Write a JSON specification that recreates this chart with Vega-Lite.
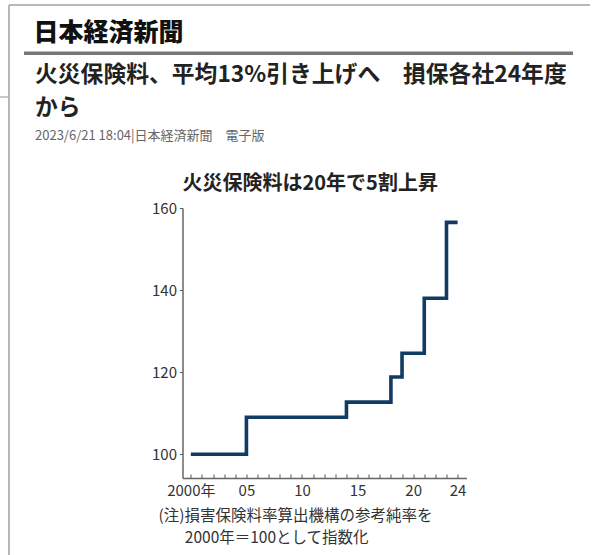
{
  "$schema": "https://vega.github.io/schema/vega-lite/v6.json",
  "width": 284,
  "height": 270,
  "autosize": {"type": "none"},
  "padding": {"left": 182.5, "top": 208, "right": 125.5, "bottom": 77},
  "background": "white",
  "config": {"view": {"stroke": null}, "font": "Noto Sans CJK JP"},
  "title": {
    "text": ["火災保険料、平均13%引き上げへ　損保各社24年度", "から"],
    "subtitle": "2023/6/21 18:04|日本経済新聞　電子版",
    "anchor": "start",
    "frame": "group",
    "dx": -147.5,
    "offset": -139.5,
    "fontSize": 22.8,
    "fontWeight": "bold",
    "color": "#222222",
    "font": "Noto Sans CJK JP",
    "lineHeight": 33,
    "subtitleFontSize": 13,
    "subtitleColor": "#666666",
    "subtitleFont": "Noto Sans CJK JP",
    "subtitlePadding": 11
  },
  "data": {
    "values": [
      {"year": 2000, "index": 100},
      {"year": 2005, "index": 109},
      {"year": 2014, "index": 112.7},
      {"year": 2018, "index": 118.8},
      {"year": 2019, "index": 124.6},
      {"year": 2021, "index": 138},
      {"year": 2023, "index": 156.5},
      {"year": 2024, "index": 156.5}
    ]
  },
  "resolve": {"axis": {"x": "independent"}},
  "layer": [
    {
      "mark": {"type": "line", "interpolate": "step-after", "color": "#123b63", "strokeWidth": 3.6, "strokeJoin": "miter", "strokeCap": "butt"},
      "encoding": {
        "x": {
          "field": "year", "type": "quantitative",
          "scale": {"domain": [1999.25, 2024.8], "nice": false, "zero": false},
          "axis": {
            "orient": "bottom",
            "values": [2000,2001,2002,2003,2004,2005,2006,2007,2008,2009,2010,2011,2012,2013,2014,2015,2016,2017,2018,2019,2020,2021,2022,2023,2024],
            "labelExpr": "datum.value == 2000 ? '2000年' : ((datum.value % 5 == 0 || datum.value == 2024) ? substring(toString(datum.value), 2, 4) : '')",
            "labelOverlap": false,
            "labelFlush": false,
            "labelFont": "Liberation Sans Narrow, Noto Sans CJK JP",
            "labelFontSize": 15,
            "labelColor": "#333333",
            "labelPadding": 9,
            "tickSize": -4,
            "tickColor": "#555555",
            "domainColor": "#666666",
            "domainWidth": 1.5,
            "grid": false,
            "title": ["(注)損害保険料率算出機構の参考純率を", "\u200B\u3000\u2002\u20092000年＝100として指数化"],
            "titleFont": "Noto Sans CJK JP",
            "titleFontSize": 15.5,
            "titleFontWeight": "normal",
            "titleColor": "#333333",
            "titleAlign": "left",
            "titleBaseline": "top",
            "titleX": -24.5,
            "titleY": 30,
            "titleLineHeight": 22
          }
        },
        "y": {
          "field": "index", "type": "quantitative",
          "scale": {"domain": [94.2, 160], "nice": false, "zero": false},
          "axis": {
            "orient": "left",
            "values": [100, 120, 140, 160],
            "labelFont": "Liberation Sans Narrow, Noto Sans CJK JP",
            "labelFontSize": 15,
            "labelColor": "#333333",
            "labelPadding": 3,
            "tickSize": 3,
            "tickColor": "#555555",
            "domainColor": "#666666",
            "domainWidth": 1.5,
            "grid": false,
            "title": "火災保険料は20年で5割上昇",
            "titleAngle": 0,
            "titleAlign": "left",
            "titleBaseline": "middle",
            "titleX": -0.5,
            "titleY": -24.5,
            "titleFont": "Noto Sans CJK JP",
            "titleFontSize": 20,
            "titleFontWeight": "bold",
            "titleColor": "#222222"
          }
        }
      }
    },
    {
      "data": {"values": [{}]},
      "mark": {"type": "rule", "color": "#777777", "strokeWidth": 3.5},
      "encoding": {
        "x": {
          "datum": 1984.99, "type": "quantitative",
          "axis": {
            "orient": "top", "domain": false, "ticks": false, "labels": false, "grid": false,
            "title": "日本経済新聞",
            "titleX": -149.5, "titleY": -175.5,
            "titleAlign": "left", "titleBaseline": "middle",
            "titleFont": "Noto Sans CJK JP", "titleFontSize": 25, "titleFontWeight": 900, "titleColor": "#111111"
          }
        },
        "x2": {"datum": 2034.38},
        "y": {"datum": 197.7, "type": "quantitative"}
      }
    },
    {
      "data": {"values": [{}]},
      "mark": {"type": "rule", "color": "#b8b8b8", "strokeWidth": 2},
      "encoding": {
        "x": {"datum": 1983.64, "type": "quantitative", "axis": null},
        "x2": {"datum": 2035.91},
        "y": {"datum": 209.5, "type": "quantitative"}
      }
    },
    {
      "data": {"values": [{}]},
      "mark": {"type": "rule", "color": "#b8b8b8", "strokeWidth": 2},
      "encoding": {
        "x": {"datum": 1983.64, "type": "quantitative", "axis": null},
        "y": {"datum": 209.5, "type": "quantitative"},
        "y2": {"datum": 75.4}
      }
    },
    {
      "data": {"values": [{}]},
      "mark": {"type": "rule", "color": "#b8b8b8", "strokeWidth": 1.5},
      "encoding": {
        "x": {"datum": 1982.83, "type": "quantitative", "axis": null},
        "x2": {"datum": 1983.64},
        "y": {"datum": 187.05, "type": "quantitative"}
      }
    }
  ]
}
